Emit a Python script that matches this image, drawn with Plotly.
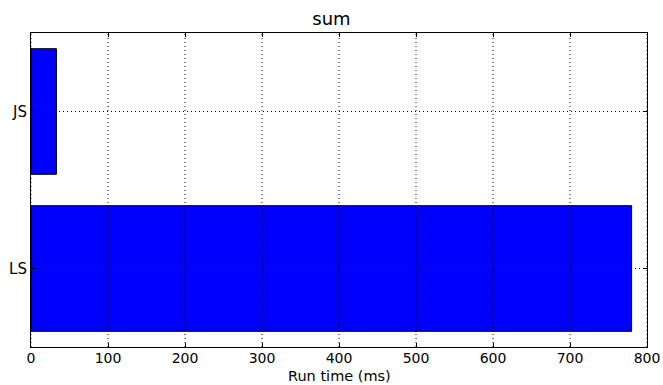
import plotly.graph_objects as go

categories = ["LS", "JS"]
run_times = [780, 33]
x_ticks = [0, 100, 200, 300, 400, 500, 600, 700, 800]
x_title = "Run time (ms)"

fig = go.Figure()
fig.add_trace(go.Bar(
    y=categories, x=run_times, orientation="h", width=0.8,
    marker=dict(color="#0000ff", line=dict(color="black", width=1)),
))

dot = "1px,3px"
shapes = []
for xv in x_ticks:
    shapes.append(dict(type="line", xref="x", yref="paper", x0=xv, x1=xv, y0=0, y1=1,
                       line=dict(color="black", width=1, dash=dot), layer="above"))
for c in categories:
    shapes.append(dict(type="line", xref="paper", yref="y", x0=0, x1=1, y0=c, y1=c,
                       line=dict(color="black", width=1, dash=dot), layer="above"))

plot_h = 385 - 33 - 38
fig.update_layout(
    width=663, height=385,
    margin=dict(l=31, r=16, t=33, b=38, autoexpand=False),
    plot_bgcolor="white", paper_bgcolor="white",
    font=dict(family="DejaVu Sans", size=14.5, color="black"),
    title=dict(text="sum", x=0.5, xanchor="center", y=1 - 19/385, yanchor="middle",
               font=dict(size=18)),
    showlegend=False,
    shapes=shapes,
    annotations=[dict(text=x_title, xref="paper", yref="paper", x=0.5, y=-(385 - 347) / plot_h,
                      xanchor="center", yanchor="bottom", showarrow=False,
                      font=dict(size=14.5), borderpad=0)],
    xaxis=dict(range=[0, 800], tickvals=x_ticks, showgrid=False, zeroline=False,
               showline=True, linecolor="black", linewidth=1, mirror="ticks",
               ticks="inside", ticklen=4, tickcolor="black", automargin=False,
               ticklabelstandoff=-2, tickfont=dict(size=14)),
    yaxis=dict(range=[-0.5, 1.5], showgrid=False, zeroline=False,
               showline=True, linecolor="black", linewidth=1, mirror="ticks",
               ticks="inside", ticklen=4, tickcolor="black", automargin=False,
               tickfont=dict(size=15)),
)
fig.write_html("out.html")
